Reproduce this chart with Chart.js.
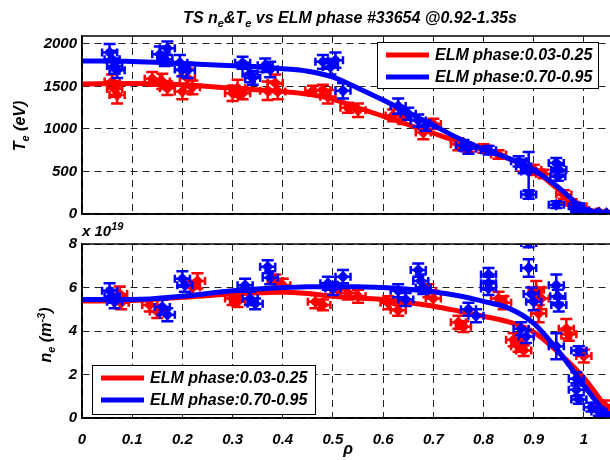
<!DOCTYPE html>
<html>
<head>
<meta charset="utf-8">
<script src="https://cdn.jsdelivr.net/npm/chart.js@4.4.1/dist/chart.umd.min.js"></script>
<style>
  html, body { margin: 0; padding: 0; background: #fff; }
  #fig { position: relative; width: 610px; height: 460px; overflow: hidden; background: #fff;
         font-family: "Liberation Sans", Arial, sans-serif; font-style: italic; font-weight: bold; color: #000; }
  .box { position: absolute; left: 0; }
  .txt { position: absolute; white-space: nowrap; line-height: 1; }
  .txt sub, .txt sup { font-size: 11px; line-height: 0; }
  #title { left: 350px; top: 10px; font-size: 16px; transform: translateX(-50%); }
  .ylab { font-size: 16px; transform: translate(-50%, -50%) rotate(-90deg); }
  #teLab { left: 20px; top: 126px; }
  #neLab { left: 46px; top: 335px; }
  #expo { left: 82px; top: 223px; font-size: 15px; }
</style>
</head>
<body>
<div id="fig">
  <div class="box" style="top:0;width:650px;height:240px"><canvas id="teChart" width="650" height="240"></canvas></div>
  <div class="box" style="top:230px;width:650px;height:230px"><canvas id="neChart" width="650" height="230"></canvas></div>
  <div class="txt" id="title">TS n<sub>e</sub>&amp;T<sub>e</sub> vs ELM phase #33654 @0.92-1.35s</div>
  <div class="txt ylab" id="teLab">T<sub>e</sub> (eV)</div>
  <div class="txt ylab" id="neLab">n<sub>e</sub> (m<sup>-3</sup>)</div>
  <div class="txt" id="expo">x 10<sup>19</sup></div>
</div>
<script>
// tick labels
const rhoTicks = [0, 0.1, 0.2, 0.3, 0.4, 0.5, 0.6, 0.7, 0.8, 0.9, 1];
const teTicks = [0, 500, 1000, 1500, 2000];
const neTicks = [0, 2, 4, 6, 8];
const phaseLabels = ['ELM phase:0.03-0.25', 'ELM phase:0.70-0.95'];

// horizontal (rho) uncertainty used for every TS channel
const RHO_ERR = 0.015;

// Te, early ELM phase (red)
const teRedRho = [0.06, 0.065, 0.07, 0.14, 0.16, 0.17, 0.20, 0.21, 0.22, 0.30, 0.31, 0.32, 0.37, 0.385, 0.39,
  0.46, 0.48, 0.49, 0.53, 0.55, 0.62, 0.64, 0.68, 0.70, 0.75, 0.77, 0.80, 0.83, 0.88, 0.90, 0.92,
  0.96, 0.97, 0.99, 1.01, 1.03, 1.045];
const teRedVal = [1560, 1470, 1400, 1590, 1560, 1480, 1440, 1600, 1490, 1420, 1480, 1420, 1450, 1540, 1440,
  1450, 1460, 1380, 1250, 1220, 1160, 1120, 960, 1060, 820, 780, 770, 700, 560, 520, 470,
  230, 140, 90, 30, 20, 10];
const teRedErr = [80, 90, 100, 80, 90, 80, 90, 110, 80, 90, 100, 70, 110, 100, 90,
  60, 60, 80, 60, 80, 70, 60, 80, 60, 70, 50, 50, 50, 60, 60, 50,
  50, 40, 30, 20, 20, 10];

// Te, late ELM phase (blue)
const teBlueRho = [0.055, 0.06, 0.065, 0.07, 0.155, 0.165, 0.17, 0.195, 0.20, 0.21, 0.32, 0.335, 0.34, 0.365, 0.375,
  0.48, 0.495, 0.505, 0.52, 0.63, 0.65, 0.67, 0.685, 0.76, 0.77, 0.81, 0.87, 0.88, 0.89, 0.89,
  0.945, 0.95, 0.948, 0.945, 0.985, 0.99, 1.01, 1.03, 1.045];
const teBlueVal = [1900, 1820, 1740, 1690, 1880, 1820, 1950, 1780, 1700, 1690, 1780, 1650, 1600, 1750, 1700,
  1790, 1730, 1810, 1450, 1270, 1180, 1100, 1040, 810, 770, 750, 620, 560, 500, 230,
  600, 520, 440, 110, 90, 30, 20, 15, 10];
const teBlueErr = [100, 100, 90, 90, 90, 80, 80, 90, 80, 90, 70, 100, 80, 80, 90,
  80, 90, 90, 90, 90, 70, 70, 60, 60, 60, 50, 60, 80, 230, 50,
  60, 60, 50, 40, 40, 30, 20, 15, 10];

// ne (1e19 m^-3), early ELM phase (red)
const neRedRho = [0.075, 0.078, 0.135, 0.15, 0.22, 0.23, 0.30, 0.31, 0.385, 0.40, 0.465, 0.48, 0.51, 0.53, 0.55,
  0.61, 0.63, 0.69, 0.70, 0.75, 0.76, 0.83, 0.84, 0.86, 0.87, 0.88, 0.905, 0.915, 0.91,
  0.965, 0.97, 1.0, 1.04, 1.045];
const neRedVal = [5.7, 5.3, 5.2, 4.9, 6.0, 6.3, 5.5, 5.35, 6.3, 6.1, 5.35, 5.2, 5.9, 5.75, 5.6,
  5.3, 4.95, 5.85, 5.5, 4.4, 4.2, 5.5, 5.3, 3.6, 3.3, 3.1, 5.9, 5.5, 4.8,
  4.1, 3.85, 2.85, 0.6, 0.3];
const neRedErr = [0.35, 0.3, 0.3, 0.3, 0.3, 0.35, 0.3, 0.25, 0.3, 0.3, 0.3, 0.25, 0.3, 0.3, 0.3,
  0.3, 0.25, 0.3, 0.35, 0.3, 0.25, 0.3, 0.3, 0.3, 0.25, 0.25, 0.4, 0.5, 0.4,
  0.45, 0.3, 0.3, 0.2, 0.2];

// ne (1e19 m^-3), late ELM phase (blue)
const neBlueRho = [0.055, 0.06, 0.065, 0.16, 0.17, 0.20, 0.205, 0.325, 0.335, 0.345, 0.37, 0.375,
  0.49, 0.50, 0.52, 0.63, 0.645, 0.67, 0.675, 0.68, 0.77, 0.785, 0.81, 0.81, 0.81,
  0.875, 0.885, 0.89, 0.89, 0.895, 0.90, 0.945, 0.948, 0.95, 0.945,
  0.99, 0.985, 0.985, 0.99, 1.015, 1.03, 1.045];
const neBlueVal = [5.85, 5.6, 5.35, 5.1, 4.75, 6.4, 6.1, 6.1, 5.5, 5.25, 6.95, 6.45,
  6.2, 5.95, 6.5, 5.85, 5.45, 6.8, 6.3, 6.0, 5.0, 4.7, 6.6, 6.2, 5.95,
  4.1, 3.75, 6.9, 8.05, 5.7, 5.35, 6.1, 5.6, 5.2, 3.3,
  3.1, 1.8, 1.3, 0.85, 0.5, 0.3, 0.15];
const neBlueErr = [0.35, 0.3, 0.3, 0.35, 0.3, 0.35, 0.3, 0.3, 0.3, 0.25, 0.3, 0.3,
  0.3, 0.3, 0.3, 0.3, 0.3, 0.3, 0.3, 0.3, 0.3, 0.3, 0.3, 0.3, 0.3,
  0.3, 0.3, 0.4, 0.2, 0.3, 0.4, 0.5, 0.3, 0.3, 0.6,
  0.2, 0.3, 0.3, 0.2, 0.2, 0.2, 0.1];

// fitted profiles
const fitRho = [0, 0.1, 0.2, 0.3, 0.4, 0.45, 0.5, 0.55, 0.6, 0.65, 0.7, 0.75, 0.8, 0.85, 0.9, 0.95, 1.0, 1.05];
const teRedFit = [1530, 1535, 1520, 1480, 1440, 1410, 1350, 1250, 1150, 1050, 950, 850, 755, 650, 515, 285, 50, 0];
const teBlueFit = [1800, 1795, 1770, 1745, 1710, 1680, 1610, 1480, 1340, 1190, 1045, 890, 760, 655, 520, 310, 65, 0];
const neRedFit = [5.38, 5.4, 5.55, 5.7, 5.78, 5.72, 5.6, 5.52, 5.45, 5.3, 5.14, 4.92, 4.68, 4.42, 3.95, 3.0, 1.85, 0.3];
const neBlueFit = [5.45, 5.45, 5.6, 5.85, 6.0, 6.03, 6.05, 6.03, 6.0, 5.92, 5.8, 5.62, 5.36, 5.05, 4.35, 3.05, 1.5, 0];

const RED = '#ff0000';
const BLUE = '#0000ff';
const FONT = '"Liberation Sans", Arial, sans-serif';

Chart.defaults.font.family = FONT;
Chart.defaults.font.style = 'italic';
Chart.defaults.font.weight = 'bold';
Chart.defaults.font.size = 15;
Chart.defaults.color = '#000';

function points(xs, ys) {
  return xs.map((x, i) => ({ x: x, y: ys[i] }));
}

function scatterSet(xs, ys, errs, color, order) {
  return {
    type: 'scatter',
    data: points(xs, ys),
    yErr: errs,
    backgroundColor: color,
    borderColor: color,
    pointStyle: 'rectRot',
    pointRadius: 6,
    borderWidth: 0,
    order: order
  };
}

function fitSet(ys, color, label, order) {
  return {
    type: 'line',
    label: label,
    isFit: true,
    data: points(fitRho, ys),
    borderColor: color,
    backgroundColor: color,
    borderWidth: 5,
    pointRadius: 0,
    cubicInterpolationMode: 'monotone',
    order: order
  };
}

// vertical + horizontal error bars, drawn under each scatter set
const errorBars = {
  id: 'errorBars',
  beforeDatasetDraw(chart, args) {
    const ds = chart.data.datasets[args.index];
    if (!ds.yErr) return;
    const xs = chart.scales.x, ys = chart.scales.y, a = chart.chartArea;
    const ctx = chart.ctx;
    ctx.save();
    ctx.beginPath();
    ctx.rect(a.left, a.top, a.right - a.left, a.bottom - a.top);
    ctx.clip();
    ctx.strokeStyle = ds.borderColor;
    ctx.lineWidth = 2.5;
    ds.data.forEach((p, i) => {
      const px = xs.getPixelForValue(p.x);
      const py = ys.getPixelForValue(p.y);
      const top = ys.getPixelForValue(p.y + ds.yErr[i]);
      const bot = ys.getPixelForValue(p.y - ds.yErr[i]);
      const l = xs.getPixelForValue(p.x - RHO_ERR);
      const r = xs.getPixelForValue(p.x + RHO_ERR);
      ctx.beginPath();
      ctx.moveTo(px, top); ctx.lineTo(px, bot);
      ctx.moveTo(px - 6, top); ctx.lineTo(px + 6, top);
      ctx.moveTo(px - 6, bot); ctx.lineTo(px + 6, bot);
      ctx.moveTo(l, py); ctx.lineTo(r, py);
      ctx.moveTo(l, py - 4); ctx.lineTo(l, py + 4);
      ctx.moveTo(r, py - 4); ctx.lineTo(r, py + 4);
      ctx.stroke();
    });
    ctx.restore();
  }
};

// full axes box plus a boxed legend for the fit lines
const frame = {
  id: 'frame',
  afterDraw(chart, args, opts) {
    const ctx = chart.ctx, a = chart.chartArea;
    ctx.save();
    ctx.strokeStyle = '#000';
    ctx.lineWidth = 1.5;
    ctx.strokeRect(a.left, a.top, a.right - a.left, a.bottom - a.top);

    const b = opts.legendBox;
    if (b) {
      ctx.fillStyle = '#fff';
      ctx.fillRect(b.x, b.y, b.w, b.h);
      ctx.lineWidth = 1;
      ctx.strokeRect(b.x + 0.5, b.y + 0.5, b.w, b.h);
      const fits = chart.data.datasets.filter(d => d.isFit);
      ctx.font = 'italic bold 16px ' + FONT;
      ctx.textBaseline = 'middle';
      fits.forEach((d, i) => {
        const y = b.y + 13 + i * 22;
        ctx.strokeStyle = d.borderColor;
        ctx.lineWidth = 5;
        ctx.beginPath();
        ctx.moveTo(b.x + 9, y);
        ctx.lineTo(b.x + 52, y);
        ctx.stroke();
        ctx.fillStyle = '#000';
        ctx.fillText(d.label, b.x + 58, y + 1);
      });
    }
    ctx.restore();
  }
};

function axisOptions(yTicks, yMax, showX, xHeight) {
  return {
    x: {
      type: 'linear', min: 0, max: 1.06,
      afterBuildTicks: s => { s.ticks = rhoTicks.map(v => ({ value: v })); },
      afterFit: s => { s.height = xHeight; },
      ticks: { display: showX, padding: 13, callback: v => String(v) },
      grid: { color: '#222', lineWidth: 1, drawTicks: false },
      border: { color: '#000', width: 1.5, dash: [7, 5] },
      title: showX ? { display: true, text: 'ρ', font: { size: 16 }, padding: { top: 0, bottom: 1 } } : { display: false }
    },
    y: {
      type: 'linear', min: 0, max: yMax,
      afterBuildTicks: s => { s.ticks = yTicks.map(v => ({ value: v })); },
      afterFit: s => { s.width = 82; },
      ticks: { padding: 5, callback: v => String(v) },
      grid: { color: '#222', lineWidth: 1, drawTicks: false },
      border: { color: '#000', width: 1.5, dash: [7, 5] }
    }
  };
}

new Chart(document.getElementById('teChart'), {
  data: {
    datasets: [
      scatterSet(teRedRho, teRedVal, teRedErr, RED, 4),
      fitSet(teRedFit, RED, phaseLabels[0], 3),
      scatterSet(teBlueRho, teBlueVal, teBlueErr, BLUE, 2),
      fitSet(teBlueFit, BLUE, phaseLabels[1], 1)
    ]
  },
  options: {
    responsive: false,
    animation: false,
    layout: { padding: { top: 36, right: 36, left: 0, bottom: 0 } },
    scales: axisOptions(teTicks, 2094, false, 26),
    plugins: {
      legend: { display: false },
      tooltip: { enabled: false },
      frame: { legendBox: { x: 377, y: 42, w: 221, h: 46 } }
    }
  },
  plugins: [errorBars, frame]
});

new Chart(document.getElementById('neChart'), {
  data: {
    datasets: [
      scatterSet(neRedRho, neRedVal, neRedErr, RED, 4),
      fitSet(neRedFit, RED, phaseLabels[0], 3),
      scatterSet(neBlueRho, neBlueVal, neBlueErr, BLUE, 2),
      fitSet(neBlueFit, BLUE, phaseLabels[1], 1)
    ]
  },
  options: {
    responsive: false,
    animation: false,
    layout: { padding: { top: 12, right: 36, left: 0, bottom: 0 } },
    scales: axisOptions(neTicks, 8, true, 42),
    plugins: {
      legend: { display: false },
      tooltip: { enabled: false },
      frame: { legendBox: { x: 92, y: 135, w: 223, h: 49 } }
    }
  },
  plugins: [errorBars, frame]
});
</script>
</body>
</html>
